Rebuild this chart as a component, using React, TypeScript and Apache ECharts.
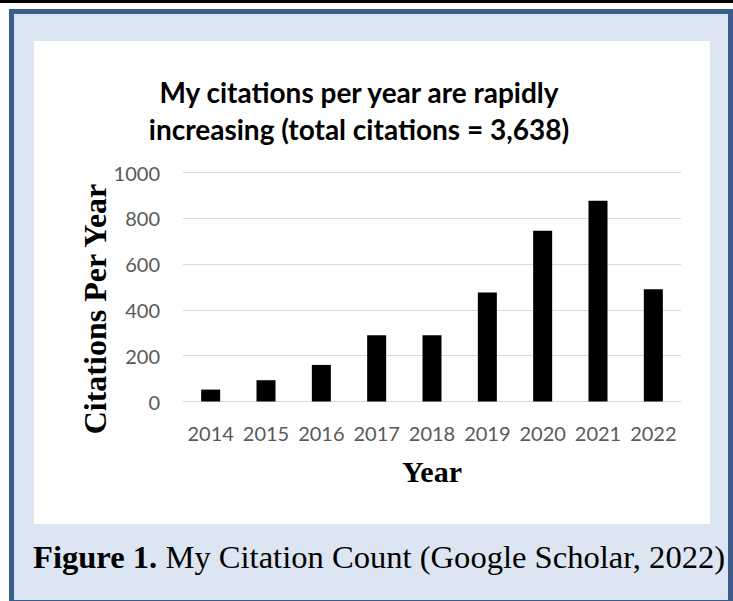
import React, { useEffect, useRef } from "react";
import * as echarts from "echarts";

const years = ["2014", "2015", "2016", "2017", "2018", "2019", "2020", "2021", "2022"];
const citations = [52, 93, 160, 290, 290, 476, 746, 877, 491];
const yTicks = { min: 0, max: 1000, interval: 200 };
const titleLines = ["My citations per year are rapidly", "increasing (total citations = 3,638)"];
const yAxisTitle = "Citations Per Year";
const xAxisTitle = "Year";
const captionBold = "Figure 1.";
const captionRest = " My Citation Count (Google Scholar, 2022)";

export default function App() {
  const ref = useRef<HTMLDivElement>(null);
  useEffect(() => {
    if (!ref.current) return;
    const chart = echarts.init(ref.current, null, { renderer: "svg" });
    chart.setOption({
      animation: false,
      backgroundColor: "#ffffff",
      graphic: [
        { type: "rect", z: -10, shape: { x: 0, y: 0, width: 733, height: 3 }, style: { fill: "#000000" } },
        {
          type: "rect", z: -10,
          shape: { x: 11.5, y: 11.5, width: 719, height: 591 },
          style: { fill: "#dce6f2", stroke: "#3b5e8c", lineWidth: 5 },
        },
        { type: "rect", z: -9, shape: { x: 34, y: 41, width: 676, height: 483 }, style: { fill: "#ffffff" } },
        {
          type: "text", x: 359, y: 92,
          style: { text: titleLines[0], fontFamily: "Lato", fontWeight: "bold", fontSize: 28, fill: "#000000", align: "center", verticalAlign: "middle" },
        },
        {
          type: "text", x: 359, y: 129,
          style: { text: titleLines[1], fontFamily: "Lato", fontWeight: "bold", fontSize: 28, fill: "#000000", align: "center", verticalAlign: "middle" },
        },
        {
          type: "text", x: 95, y: 309, rotation: Math.PI / 2,
          style: { text: yAxisTitle, fontFamily: "Liberation Serif", fontWeight: "bold", fontSize: 32, fill: "#000000", align: "center", verticalAlign: "middle" },
        },
        {
          type: "text", x: 33, y: 557,
          style: {
            text: "{b|" + captionBold + "}" + captionRest,
            fontFamily: "Liberation Serif", fontSize: 32.6, fill: "#000000", align: "left", verticalAlign: "middle",
            rich: { b: { fontFamily: "Liberation Serif", fontWeight: "bold", fontSize: 32.6, fill: "#000000" } },
          },
        },
      ],
      grid: { left: 183, right: 52, top: 172.7, bottom: 199.5, containLabel: false },
      xAxis: {
        type: "category",
        data: years,
        name: xAxisTitle,
        nameLocation: "middle",
        nameGap: 55,
        nameTextStyle: { fontFamily: "Liberation Serif", fontWeight: "bold", fontSize: 30, color: "#000000" },
        axisLine: { lineStyle: { color: "#d9d9d9", width: 1 } },
        axisTick: { show: false },
        axisLabel: { fontFamily: "Lato", fontSize: 20, color: "#595959", margin: 21, interval: 0 },
      },
      yAxis: {
        type: "value",
        min: yTicks.min,
        max: yTicks.max,
        interval: yTicks.interval,
        axisLine: { show: false },
        axisTick: { show: false },
        splitLine: { lineStyle: { color: "#d9d9d9", width: 1 } },
        axisLabel: { fontFamily: "Lato", fontSize: 20, color: "#595959", margin: 23, formatter: (v: number) => String(v) },
      },
      series: [
        {
          type: "bar",
          data: citations,
          barWidth: 19,
          itemStyle: { color: "#000000" },
        },
      ],
    });
    return () => chart.dispose();
  }, []);
  return <div ref={ref} style={{ position: "fixed", left: 0, top: 0, width: 733, height: 601 }} />;
}
